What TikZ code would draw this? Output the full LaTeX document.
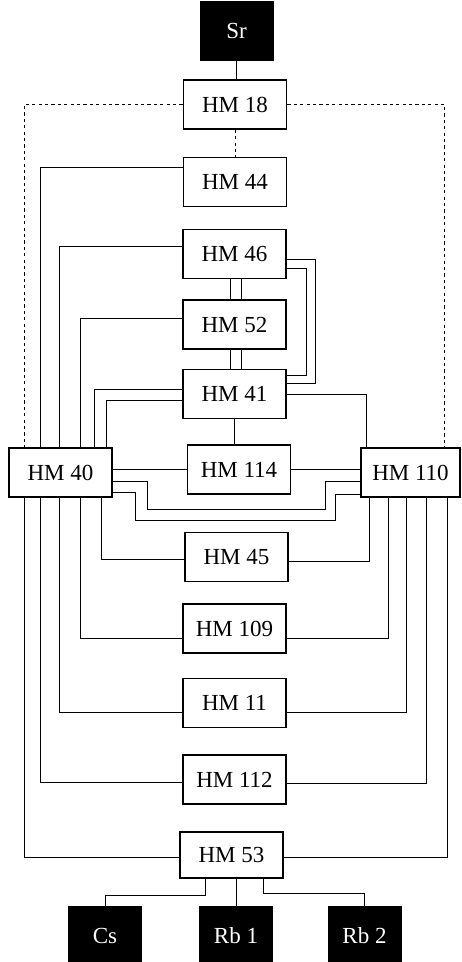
\documentclass[tikz,border=0pt]{standalone}
\usepackage{fontspec}
\setmainfont{Liberation Serif}
\usepackage{tikz}
\usetikzlibrary{calc}
\tikzset{
  hmbox/.style   = {rectangle, draw=black, line width=0.9pt, fill=white,
                    minimum width=51.5pt, minimum height=24.5pt, inner sep=0pt,
                    font=\fontsize{11.5}{13}\selectfont},
  srcbox/.style  = {rectangle, fill=black, text=white, minimum width=37pt,
                    minimum height=30pt, inner sep=0pt,
                    font=\fontsize{11.5}{13}\selectfont},
  hmlink/.style  = {draw=black, line width=0.45pt},
  hmdash/.style  = {hmlink, dash pattern=on 1.6pt off 1.6pt},
}

\begin{document}
\begin{tikzpicture}[x=0.5pt,y=-0.5pt]
  \clip (0,0) rectangle (461,962);
  \node[srcbox] (sr)    at (236.5,31)  {Sr};
  \node[hmbox]  (hm18)  at (235,104.5) {HM 18};
  \node[hmbox]  (hm44)  at (235,182)   {HM 44};
  \node[hmbox]  (hm46)  at (234.5,254) {HM 46};
  \node[hmbox]  (hm52)  at (234.5,324.5) {HM 52};
  \node[hmbox]  (hm41)  at (234.5,394) {HM 41};
  \node[hmbox]  (hm114) at (239,469.5) {HM 114};
  \node[hmbox]  (hm40)  at (60.5,472.5) {HM 40};
  \node[hmbox, minimum width=49.5pt] (hm110) at (410.5,472.5) {HM 110};
  \node[hmbox]  (hm45)  at (236.5,557) {HM 45};
  \node[hmbox]  (hm109) at (234.5,628.5) {HM 109};
  \node[hmbox]  (hm11)  at (234.5,703) {HM 11};
  \node[hmbox]  (hm112) at (234.5,779.5) {HM 112};
  \node[hmbox, minimum height=23pt] (hm53) at (231.5,855) {HM 53};
  \node[srcbox] (cs)    at (105,936)   {Cs};
  \node[srcbox] (rb1)   at (236,936)   {Rb 1};
  \node[srcbox] (rb2)   at (364.5,936) {Rb 2};

  % top
  \draw[hmlink] (sr.south) -- (sr.south |- hm18.north);
  \draw[hmdash] (hm18.south) -- (hm18.south |- hm44.north);
  \draw[hmdash] (hm18.west) -| ($(hm40.north west)+(16,0)$);
  \draw[hmdash] (hm18.east) -| ($(hm110.north east)+(-16,0)$);

  % into HM 40 from above
  \draw[hmlink] ($(hm44.west)+(0,-15)$) -| ($(hm40.north west)+(32,0)$);
  \draw[hmlink] ($(hm46.west)+(0,-8)$) -| ($(hm40.north west)+(51,0)$);
  \draw[hmlink] ($(hm52.west)+(0,-6.5)$) -| ($(hm40.north west)+(72,0)$);
  \draw[hmlink] ($(hm41.west)+(0,-5)$) -| ($(hm40.north west)+(86,0)$);
  \draw[hmlink] ($(hm41.west)+(0,6)$) -| ($(hm40.north west)+(98,0)$);
  \draw[hmlink] (hm41.east) -| ($(hm110.north west)+(6,0)$);

  % middle column
  \draw[hmlink] ($(hm46.south)+(-4,0)$) -- ($(hm52.north)+(-4,0)$);
  \draw[hmlink] ($(hm46.south)+(7,0)$) -- ($(hm52.north)+(7,0)$);
  \draw[hmlink] ($(hm52.south)+(-4,0)$) -- ($(hm41.north)+(-4,0)$);
  \draw[hmlink] ($(hm52.south)+(7,0)$) -- ($(hm41.north)+(7,0)$);
  \draw[hmlink] ($(hm46.east)+(0,5)$) -- ++(29,0) |- ($(hm41.east)+(0,-11)$);
  \draw[hmlink] ($(hm46.east)+(0,14)$) -- ++(20,0) |- ($(hm41.east)+(0,-19)$);
  \draw[hmlink] (hm41.south) -- (hm41.south |- hm114.north);

  % HM 40 -- HM 110
  \draw[hmlink] (hm40.east |- hm114.west) -- (hm114.west);
  \draw[hmlink] (hm114.east) -- (hm114.east -| hm110.west);
  \draw[hmlink] ($(hm40.east)+(0,8.5)$) -| ++(35,28) -| ($(hm110.west)+(-35,8.5)$)
                -- ($(hm110.west)+(0,8.5)$);
  \draw[hmlink] ($(hm40.east)+(0,19.5)$) -| ++(23,28) -| ($(hm110.west)+(-25,21.5)$)
                -- ($(hm110.west)+(0,21.5)$);

  % below HM 40
  \draw[hmlink] ($(hm40.south west)+(93,0)$) |- ($(hm45.west)+(0,2)$);
  \draw[hmlink] ($(hm40.south west)+(72,0)$) |- ($(hm109.west)+(0,10)$);
  \draw[hmlink] ($(hm40.south west)+(51,0)$) |- ($(hm11.west)+(0,9)$);
  \draw[hmlink] ($(hm40.south west)+(32,0)$) |- ($(hm112.west)+(0,2.5)$);
  \draw[hmlink] ($(hm40.south west)+(16,0)$) |- ($(hm53.west)+(0,2)$);

  % below HM 110
  \draw[hmlink] ($(hm45.east)+(0,4)$) -| ($(hm110.south west)+(9,0)$);
  \draw[hmlink] ($(hm109.east)+(0,10)$) -| ($(hm110.south west)+(28,0)$);
  \draw[hmlink] ($(hm11.east)+(0,9)$) -| ($(hm110.south west)+(46,0)$);
  \draw[hmlink] ($(hm112.east)+(0,3.5)$) -| ($(hm110.south west)+(66,0)$);
  \draw[hmlink] ($(hm53.east)+(0,2)$) -| ($(hm110.south west)+(87,0)$);

  % bottom
  \draw[hmlink] ($(hm53.south)+(-26.5,0)$) -- ++(0,17) -| (cs.north);
  \draw[hmlink] (rb1.north |- hm53.south) -- (rb1.north);
  \draw[hmlink] ($(hm53.south)+(31.5,0)$) -- ++(0,15) -| (rb2.north);
\end{tikzpicture}
\end{document}
